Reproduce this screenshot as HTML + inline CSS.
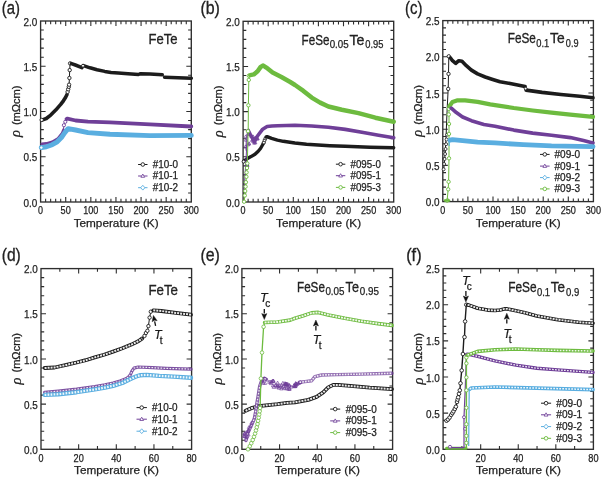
<!DOCTYPE html><html><head><meta charset="utf-8"><style>html,body{margin:0;padding:0;background:#fff;overflow:hidden;width:602px;height:478px}svg{display:block;will-change:transform;font-family:"Liberation Sans",sans-serif}</style></head><body><svg width="602" height="478" viewBox="0 0 602 478">
<rect width="602" height="478" fill="#fff"/>
<path d="M45.62 202.00v-3.2M45.62 21.00v3.2M50.65 202.00v-3.2M50.65 21.00v3.2M55.67 202.00v-3.2M55.67 21.00v3.2M60.69 202.00v-3.2M60.69 21.00v3.2M65.72 202.00v-5.0M65.72 21.00v5.0M70.74 202.00v-3.2M70.74 21.00v3.2M75.76 202.00v-3.2M75.76 21.00v3.2M80.79 202.00v-3.2M80.79 21.00v3.2M85.81 202.00v-3.2M85.81 21.00v3.2M90.83 202.00v-5.0M90.83 21.00v5.0M95.86 202.00v-3.2M95.86 21.00v3.2M100.88 202.00v-3.2M100.88 21.00v3.2M105.90 202.00v-3.2M105.90 21.00v3.2M110.93 202.00v-3.2M110.93 21.00v3.2M115.95 202.00v-5.0M115.95 21.00v5.0M120.97 202.00v-3.2M120.97 21.00v3.2M126.00 202.00v-3.2M126.00 21.00v3.2M131.02 202.00v-3.2M131.02 21.00v3.2M136.04 202.00v-3.2M136.04 21.00v3.2M141.07 202.00v-5.0M141.07 21.00v5.0M146.09 202.00v-3.2M146.09 21.00v3.2M151.11 202.00v-3.2M151.11 21.00v3.2M156.14 202.00v-3.2M156.14 21.00v3.2M161.16 202.00v-3.2M161.16 21.00v3.2M166.18 202.00v-5.0M166.18 21.00v5.0M171.21 202.00v-3.2M171.21 21.00v3.2M176.23 202.00v-3.2M176.23 21.00v3.2M181.25 202.00v-3.2M181.25 21.00v3.2M186.28 202.00v-3.2M186.28 21.00v3.2M40.60 192.95h3.2M191.30 192.95h-3.2M40.60 183.90h3.2M191.30 183.90h-3.2M40.60 174.85h3.2M191.30 174.85h-3.2M40.60 165.80h3.2M191.30 165.80h-3.2M40.60 156.75h5.0M191.30 156.75h-5.0M40.60 147.70h3.2M191.30 147.70h-3.2M40.60 138.65h3.2M191.30 138.65h-3.2M40.60 129.60h3.2M191.30 129.60h-3.2M40.60 120.55h3.2M191.30 120.55h-3.2M40.60 111.50h5.0M191.30 111.50h-5.0M40.60 102.45h3.2M191.30 102.45h-3.2M40.60 93.40h3.2M191.30 93.40h-3.2M40.60 84.35h3.2M191.30 84.35h-3.2M40.60 75.30h3.2M191.30 75.30h-3.2M40.60 66.25h5.0M191.30 66.25h-5.0M40.60 57.20h3.2M191.30 57.20h-3.2M40.60 48.15h3.2M191.30 48.15h-3.2M40.60 39.10h3.2M191.30 39.10h-3.2M40.60 30.05h3.2M191.30 30.05h-3.2" stroke="#2e2e2e" stroke-width="1.1" fill="none"/>
<rect x="40.60" y="21.00" width="150.70" height="181.00" stroke="#2e2e2e" stroke-width="1.35" fill="none"/>
<text x="40.60" y="214.20" font-size="10.5" text-anchor="middle" textLength="5.0" lengthAdjust="spacingAndGlyphs" fill="#222222" stroke="#222222" stroke-width="0.25" >0</text>
<text x="65.72" y="214.20" font-size="10.5" text-anchor="middle" textLength="10.2" lengthAdjust="spacingAndGlyphs" fill="#222222" stroke="#222222" stroke-width="0.25" >50</text>
<text x="90.83" y="214.20" font-size="10.5" text-anchor="middle" textLength="15.2" lengthAdjust="spacingAndGlyphs" fill="#222222" stroke="#222222" stroke-width="0.25" >100</text>
<text x="115.95" y="214.20" font-size="10.5" text-anchor="middle" textLength="15.2" lengthAdjust="spacingAndGlyphs" fill="#222222" stroke="#222222" stroke-width="0.25" >150</text>
<text x="141.07" y="214.20" font-size="10.5" text-anchor="middle" textLength="15.2" lengthAdjust="spacingAndGlyphs" fill="#222222" stroke="#222222" stroke-width="0.25" >200</text>
<text x="166.18" y="214.20" font-size="10.5" text-anchor="middle" textLength="15.2" lengthAdjust="spacingAndGlyphs" fill="#222222" stroke="#222222" stroke-width="0.25" >250</text>
<text x="191.30" y="214.20" font-size="10.5" text-anchor="middle" textLength="15.2" lengthAdjust="spacingAndGlyphs" fill="#222222" stroke="#222222" stroke-width="0.25" >300</text>
<text x="37.40" y="206.60" font-size="11" text-anchor="end" textLength="13.8" lengthAdjust="spacingAndGlyphs" fill="#222222" stroke="#222222" stroke-width="0.25" >0.0</text>
<text x="37.40" y="161.35" font-size="11" text-anchor="end" textLength="13.8" lengthAdjust="spacingAndGlyphs" fill="#222222" stroke="#222222" stroke-width="0.25" >0.5</text>
<text x="37.40" y="116.10" font-size="11" text-anchor="end" textLength="13.8" lengthAdjust="spacingAndGlyphs" fill="#222222" stroke="#222222" stroke-width="0.25" >1.0</text>
<text x="37.40" y="70.85" font-size="11" text-anchor="end" textLength="13.8" lengthAdjust="spacingAndGlyphs" fill="#222222" stroke="#222222" stroke-width="0.25" >1.5</text>
<text x="37.40" y="25.60" font-size="11" text-anchor="end" textLength="13.8" lengthAdjust="spacingAndGlyphs" fill="#222222" stroke="#222222" stroke-width="0.25" >2.0</text>
<text x="73.65" y="227.00" font-size="11.5" text-anchor="start" textLength="85.0" lengthAdjust="spacingAndGlyphs" fill="#222222" stroke="#222222" stroke-width="0.25" >Temperature (K)</text>
<g transform="translate(19.90,111.50) rotate(-90)"><text x="-25.6" y="0.3" style="font-family:'Liberation Serif',serif" font-style="italic" font-size="14.5" fill="#222222" stroke="#222222" stroke-width="0.2">ρ</text><text x="-13.6" y="0" font-size="10" fill="#222222" stroke="#222222" stroke-width="0.25" textLength="39.6" lengthAdjust="spacingAndGlyphs">(mΩcm)</text></g>
<path d="M248.12 202.00v-3.2M248.12 21.30v3.2M253.14 202.00v-3.2M253.14 21.30v3.2M258.16 202.00v-3.2M258.16 21.30v3.2M263.18 202.00v-3.2M263.18 21.30v3.2M268.20 202.00v-5.0M268.20 21.30v5.0M273.22 202.00v-3.2M273.22 21.30v3.2M278.24 202.00v-3.2M278.24 21.30v3.2M283.26 202.00v-3.2M283.26 21.30v3.2M288.28 202.00v-3.2M288.28 21.30v3.2M293.30 202.00v-5.0M293.30 21.30v5.0M298.32 202.00v-3.2M298.32 21.30v3.2M303.34 202.00v-3.2M303.34 21.30v3.2M308.36 202.00v-3.2M308.36 21.30v3.2M313.38 202.00v-3.2M313.38 21.30v3.2M318.40 202.00v-5.0M318.40 21.30v5.0M323.42 202.00v-3.2M323.42 21.30v3.2M328.44 202.00v-3.2M328.44 21.30v3.2M333.46 202.00v-3.2M333.46 21.30v3.2M338.48 202.00v-3.2M338.48 21.30v3.2M343.50 202.00v-5.0M343.50 21.30v5.0M348.52 202.00v-3.2M348.52 21.30v3.2M353.54 202.00v-3.2M353.54 21.30v3.2M358.56 202.00v-3.2M358.56 21.30v3.2M363.58 202.00v-3.2M363.58 21.30v3.2M368.60 202.00v-5.0M368.60 21.30v5.0M373.62 202.00v-3.2M373.62 21.30v3.2M378.64 202.00v-3.2M378.64 21.30v3.2M383.66 202.00v-3.2M383.66 21.30v3.2M388.68 202.00v-3.2M388.68 21.30v3.2M243.10 192.97h3.2M393.70 192.97h-3.2M243.10 183.93h3.2M393.70 183.93h-3.2M243.10 174.89h3.2M393.70 174.89h-3.2M243.10 165.86h3.2M393.70 165.86h-3.2M243.10 156.82h5.0M393.70 156.82h-5.0M243.10 147.79h3.2M393.70 147.79h-3.2M243.10 138.75h3.2M393.70 138.75h-3.2M243.10 129.72h3.2M393.70 129.72h-3.2M243.10 120.69h3.2M393.70 120.69h-3.2M243.10 111.65h5.0M393.70 111.65h-5.0M243.10 102.61h3.2M393.70 102.61h-3.2M243.10 93.58h3.2M393.70 93.58h-3.2M243.10 84.55h3.2M393.70 84.55h-3.2M243.10 75.51h3.2M393.70 75.51h-3.2M243.10 66.48h5.0M393.70 66.48h-5.0M243.10 57.44h3.2M393.70 57.44h-3.2M243.10 48.41h3.2M393.70 48.41h-3.2M243.10 39.37h3.2M393.70 39.37h-3.2M243.10 30.34h3.2M393.70 30.34h-3.2" stroke="#2e2e2e" stroke-width="1.1" fill="none"/>
<rect x="243.10" y="21.30" width="150.60" height="180.70" stroke="#2e2e2e" stroke-width="1.35" fill="none"/>
<text x="243.10" y="214.20" font-size="10.5" text-anchor="middle" textLength="5.0" lengthAdjust="spacingAndGlyphs" fill="#222222" stroke="#222222" stroke-width="0.25" >0</text>
<text x="268.20" y="214.20" font-size="10.5" text-anchor="middle" textLength="10.2" lengthAdjust="spacingAndGlyphs" fill="#222222" stroke="#222222" stroke-width="0.25" >50</text>
<text x="293.30" y="214.20" font-size="10.5" text-anchor="middle" textLength="15.2" lengthAdjust="spacingAndGlyphs" fill="#222222" stroke="#222222" stroke-width="0.25" >100</text>
<text x="318.40" y="214.20" font-size="10.5" text-anchor="middle" textLength="15.2" lengthAdjust="spacingAndGlyphs" fill="#222222" stroke="#222222" stroke-width="0.25" >150</text>
<text x="343.50" y="214.20" font-size="10.5" text-anchor="middle" textLength="15.2" lengthAdjust="spacingAndGlyphs" fill="#222222" stroke="#222222" stroke-width="0.25" >200</text>
<text x="368.60" y="214.20" font-size="10.5" text-anchor="middle" textLength="15.2" lengthAdjust="spacingAndGlyphs" fill="#222222" stroke="#222222" stroke-width="0.25" >250</text>
<text x="393.70" y="214.20" font-size="10.5" text-anchor="middle" textLength="15.2" lengthAdjust="spacingAndGlyphs" fill="#222222" stroke="#222222" stroke-width="0.25" >300</text>
<text x="239.90" y="206.60" font-size="11" text-anchor="end" textLength="13.8" lengthAdjust="spacingAndGlyphs" fill="#222222" stroke="#222222" stroke-width="0.25" >0.0</text>
<text x="239.90" y="161.42" font-size="11" text-anchor="end" textLength="13.8" lengthAdjust="spacingAndGlyphs" fill="#222222" stroke="#222222" stroke-width="0.25" >0.5</text>
<text x="239.90" y="116.25" font-size="11" text-anchor="end" textLength="13.8" lengthAdjust="spacingAndGlyphs" fill="#222222" stroke="#222222" stroke-width="0.25" >1.0</text>
<text x="239.90" y="71.08" font-size="11" text-anchor="end" textLength="13.8" lengthAdjust="spacingAndGlyphs" fill="#222222" stroke="#222222" stroke-width="0.25" >1.5</text>
<text x="239.90" y="25.90" font-size="11" text-anchor="end" textLength="13.8" lengthAdjust="spacingAndGlyphs" fill="#222222" stroke="#222222" stroke-width="0.25" >2.0</text>
<text x="276.10" y="227.00" font-size="11.5" text-anchor="start" textLength="85.0" lengthAdjust="spacingAndGlyphs" fill="#222222" stroke="#222222" stroke-width="0.25" >Temperature (K)</text>
<g transform="translate(222.40,111.65) rotate(-90)"><text x="-25.6" y="0.3" style="font-family:'Liberation Serif',serif" font-style="italic" font-size="14.5" fill="#222222" stroke="#222222" stroke-width="0.2">ρ</text><text x="-13.6" y="0" font-size="10" fill="#222222" stroke="#222222" stroke-width="0.25" textLength="39.6" lengthAdjust="spacingAndGlyphs">(mΩcm)</text></g>
<path d="M447.82 201.60v-3.2M447.82 20.60v3.2M452.84 201.60v-3.2M452.84 20.60v3.2M457.86 201.60v-3.2M457.86 20.60v3.2M462.88 201.60v-3.2M462.88 20.60v3.2M467.90 201.60v-5.0M467.90 20.60v5.0M472.92 201.60v-3.2M472.92 20.60v3.2M477.94 201.60v-3.2M477.94 20.60v3.2M482.96 201.60v-3.2M482.96 20.60v3.2M487.98 201.60v-3.2M487.98 20.60v3.2M493.00 201.60v-5.0M493.00 20.60v5.0M498.02 201.60v-3.2M498.02 20.60v3.2M503.04 201.60v-3.2M503.04 20.60v3.2M508.06 201.60v-3.2M508.06 20.60v3.2M513.08 201.60v-3.2M513.08 20.60v3.2M518.10 201.60v-5.0M518.10 20.60v5.0M523.12 201.60v-3.2M523.12 20.60v3.2M528.14 201.60v-3.2M528.14 20.60v3.2M533.16 201.60v-3.2M533.16 20.60v3.2M538.18 201.60v-3.2M538.18 20.60v3.2M543.20 201.60v-5.0M543.20 20.60v5.0M548.22 201.60v-3.2M548.22 20.60v3.2M553.24 201.60v-3.2M553.24 20.60v3.2M558.26 201.60v-3.2M558.26 20.60v3.2M563.28 201.60v-3.2M563.28 20.60v3.2M568.30 201.60v-5.0M568.30 20.60v5.0M573.32 201.60v-3.2M573.32 20.60v3.2M578.34 201.60v-3.2M578.34 20.60v3.2M583.36 201.60v-3.2M583.36 20.60v3.2M588.38 201.60v-3.2M588.38 20.60v3.2M442.80 194.36h3.2M593.40 194.36h-3.2M442.80 187.12h3.2M593.40 187.12h-3.2M442.80 179.88h3.2M593.40 179.88h-3.2M442.80 172.64h3.2M593.40 172.64h-3.2M442.80 165.40h5.0M593.40 165.40h-5.0M442.80 158.16h3.2M593.40 158.16h-3.2M442.80 150.92h3.2M593.40 150.92h-3.2M442.80 143.68h3.2M593.40 143.68h-3.2M442.80 136.44h3.2M593.40 136.44h-3.2M442.80 129.20h5.0M593.40 129.20h-5.0M442.80 121.96h3.2M593.40 121.96h-3.2M442.80 114.72h3.2M593.40 114.72h-3.2M442.80 107.48h3.2M593.40 107.48h-3.2M442.80 100.24h3.2M593.40 100.24h-3.2M442.80 93.00h5.0M593.40 93.00h-5.0M442.80 85.76h3.2M593.40 85.76h-3.2M442.80 78.52h3.2M593.40 78.52h-3.2M442.80 71.28h3.2M593.40 71.28h-3.2M442.80 64.04h3.2M593.40 64.04h-3.2M442.80 56.80h5.0M593.40 56.80h-5.0M442.80 49.56h3.2M593.40 49.56h-3.2M442.80 42.32h3.2M593.40 42.32h-3.2M442.80 35.08h3.2M593.40 35.08h-3.2M442.80 27.84h3.2M593.40 27.84h-3.2" stroke="#2e2e2e" stroke-width="1.1" fill="none"/>
<rect x="442.80" y="20.60" width="150.60" height="181.00" stroke="#2e2e2e" stroke-width="1.35" fill="none"/>
<text x="442.80" y="213.80" font-size="10.5" text-anchor="middle" textLength="5.0" lengthAdjust="spacingAndGlyphs" fill="#222222" stroke="#222222" stroke-width="0.25" >0</text>
<text x="467.90" y="213.80" font-size="10.5" text-anchor="middle" textLength="10.2" lengthAdjust="spacingAndGlyphs" fill="#222222" stroke="#222222" stroke-width="0.25" >50</text>
<text x="493.00" y="213.80" font-size="10.5" text-anchor="middle" textLength="15.2" lengthAdjust="spacingAndGlyphs" fill="#222222" stroke="#222222" stroke-width="0.25" >100</text>
<text x="518.10" y="213.80" font-size="10.5" text-anchor="middle" textLength="15.2" lengthAdjust="spacingAndGlyphs" fill="#222222" stroke="#222222" stroke-width="0.25" >150</text>
<text x="543.20" y="213.80" font-size="10.5" text-anchor="middle" textLength="15.2" lengthAdjust="spacingAndGlyphs" fill="#222222" stroke="#222222" stroke-width="0.25" >200</text>
<text x="568.30" y="213.80" font-size="10.5" text-anchor="middle" textLength="15.2" lengthAdjust="spacingAndGlyphs" fill="#222222" stroke="#222222" stroke-width="0.25" >250</text>
<text x="593.40" y="213.80" font-size="10.5" text-anchor="middle" textLength="15.2" lengthAdjust="spacingAndGlyphs" fill="#222222" stroke="#222222" stroke-width="0.25" >300</text>
<text x="439.60" y="206.20" font-size="11" text-anchor="end" textLength="13.8" lengthAdjust="spacingAndGlyphs" fill="#222222" stroke="#222222" stroke-width="0.25" >0.0</text>
<text x="439.60" y="170.00" font-size="11" text-anchor="end" textLength="13.8" lengthAdjust="spacingAndGlyphs" fill="#222222" stroke="#222222" stroke-width="0.25" >0.5</text>
<text x="439.60" y="133.80" font-size="11" text-anchor="end" textLength="13.8" lengthAdjust="spacingAndGlyphs" fill="#222222" stroke="#222222" stroke-width="0.25" >1.0</text>
<text x="439.60" y="97.60" font-size="11" text-anchor="end" textLength="13.8" lengthAdjust="spacingAndGlyphs" fill="#222222" stroke="#222222" stroke-width="0.25" >1.5</text>
<text x="439.60" y="61.40" font-size="11" text-anchor="end" textLength="13.8" lengthAdjust="spacingAndGlyphs" fill="#222222" stroke="#222222" stroke-width="0.25" >2.0</text>
<text x="439.60" y="25.20" font-size="11" text-anchor="end" textLength="13.8" lengthAdjust="spacingAndGlyphs" fill="#222222" stroke="#222222" stroke-width="0.25" >2.5</text>
<text x="475.80" y="226.60" font-size="11.5" text-anchor="start" textLength="85.0" lengthAdjust="spacingAndGlyphs" fill="#222222" stroke="#222222" stroke-width="0.25" >Temperature (K)</text>
<g transform="translate(422.10,111.10) rotate(-90)"><text x="-25.6" y="0.3" style="font-family:'Liberation Serif',serif" font-style="italic" font-size="14.5" fill="#222222" stroke="#222222" stroke-width="0.2">ρ</text><text x="-13.6" y="0" font-size="10" fill="#222222" stroke="#222222" stroke-width="0.25" textLength="39.6" lengthAdjust="spacingAndGlyphs">(mΩcm)</text></g>
<path d="M59.83 449.30v-3.2M59.83 268.60v3.2M78.65 449.30v-5.0M78.65 268.60v5.0M97.47 449.30v-3.2M97.47 268.60v3.2M116.30 449.30v-5.0M116.30 268.60v5.0M135.12 449.30v-3.2M135.12 268.60v3.2M153.95 449.30v-5.0M153.95 268.60v5.0M172.78 449.30v-3.2M172.78 268.60v3.2M41.00 440.26h3.2M191.60 440.26h-3.2M41.00 431.23h3.2M191.60 431.23h-3.2M41.00 422.19h3.2M191.60 422.19h-3.2M41.00 413.16h3.2M191.60 413.16h-3.2M41.00 404.12h5.0M191.60 404.12h-5.0M41.00 395.09h3.2M191.60 395.09h-3.2M41.00 386.06h3.2M191.60 386.06h-3.2M41.00 377.02h3.2M191.60 377.02h-3.2M41.00 367.99h3.2M191.60 367.99h-3.2M41.00 358.95h5.0M191.60 358.95h-5.0M41.00 349.92h3.2M191.60 349.92h-3.2M41.00 340.88h3.2M191.60 340.88h-3.2M41.00 331.85h3.2M191.60 331.85h-3.2M41.00 322.81h3.2M191.60 322.81h-3.2M41.00 313.78h5.0M191.60 313.78h-5.0M41.00 304.74h3.2M191.60 304.74h-3.2M41.00 295.71h3.2M191.60 295.71h-3.2M41.00 286.67h3.2M191.60 286.67h-3.2M41.00 277.63h3.2M191.60 277.63h-3.2" stroke="#2e2e2e" stroke-width="1.1" fill="none"/>
<rect x="41.00" y="268.60" width="150.60" height="180.70" stroke="#2e2e2e" stroke-width="1.35" fill="none"/>
<text x="41.00" y="461.50" font-size="10.5" text-anchor="middle" textLength="5.0" lengthAdjust="spacingAndGlyphs" fill="#222222" stroke="#222222" stroke-width="0.25" >0</text>
<text x="78.65" y="461.50" font-size="10.5" text-anchor="middle" textLength="10.2" lengthAdjust="spacingAndGlyphs" fill="#222222" stroke="#222222" stroke-width="0.25" >20</text>
<text x="116.30" y="461.50" font-size="10.5" text-anchor="middle" textLength="10.2" lengthAdjust="spacingAndGlyphs" fill="#222222" stroke="#222222" stroke-width="0.25" >40</text>
<text x="153.95" y="461.50" font-size="10.5" text-anchor="middle" textLength="10.2" lengthAdjust="spacingAndGlyphs" fill="#222222" stroke="#222222" stroke-width="0.25" >60</text>
<text x="191.60" y="461.50" font-size="10.5" text-anchor="middle" textLength="10.2" lengthAdjust="spacingAndGlyphs" fill="#222222" stroke="#222222" stroke-width="0.25" >80</text>
<text x="37.80" y="453.90" font-size="11" text-anchor="end" textLength="13.8" lengthAdjust="spacingAndGlyphs" fill="#222222" stroke="#222222" stroke-width="0.25" >0.0</text>
<text x="37.80" y="408.73" font-size="11" text-anchor="end" textLength="13.8" lengthAdjust="spacingAndGlyphs" fill="#222222" stroke="#222222" stroke-width="0.25" >0.5</text>
<text x="37.80" y="363.55" font-size="11" text-anchor="end" textLength="13.8" lengthAdjust="spacingAndGlyphs" fill="#222222" stroke="#222222" stroke-width="0.25" >1.0</text>
<text x="37.80" y="318.38" font-size="11" text-anchor="end" textLength="13.8" lengthAdjust="spacingAndGlyphs" fill="#222222" stroke="#222222" stroke-width="0.25" >1.5</text>
<text x="37.80" y="273.20" font-size="11" text-anchor="end" textLength="13.8" lengthAdjust="spacingAndGlyphs" fill="#222222" stroke="#222222" stroke-width="0.25" >2.0</text>
<text x="74.00" y="474.30" font-size="11.5" text-anchor="start" textLength="85.0" lengthAdjust="spacingAndGlyphs" fill="#222222" stroke="#222222" stroke-width="0.25" >Temperature (K)</text>
<g transform="translate(20.30,358.95) rotate(-90)"><text x="-25.6" y="0.3" style="font-family:'Liberation Serif',serif" font-style="italic" font-size="14.5" fill="#222222" stroke="#222222" stroke-width="0.2">ρ</text><text x="-13.6" y="0" font-size="10" fill="#222222" stroke="#222222" stroke-width="0.25" textLength="39.6" lengthAdjust="spacingAndGlyphs">(mΩcm)</text></g>
<path d="M260.74 449.30v-3.2M260.74 268.60v3.2M279.57 449.30v-5.0M279.57 268.60v5.0M298.41 449.30v-3.2M298.41 268.60v3.2M317.25 449.30v-5.0M317.25 268.60v5.0M336.09 449.30v-3.2M336.09 268.60v3.2M354.93 449.30v-5.0M354.93 268.60v5.0M373.76 449.30v-3.2M373.76 268.60v3.2M241.90 440.26h3.2M392.60 440.26h-3.2M241.90 431.23h3.2M392.60 431.23h-3.2M241.90 422.19h3.2M392.60 422.19h-3.2M241.90 413.16h3.2M392.60 413.16h-3.2M241.90 404.12h5.0M392.60 404.12h-5.0M241.90 395.09h3.2M392.60 395.09h-3.2M241.90 386.06h3.2M392.60 386.06h-3.2M241.90 377.02h3.2M392.60 377.02h-3.2M241.90 367.99h3.2M392.60 367.99h-3.2M241.90 358.95h5.0M392.60 358.95h-5.0M241.90 349.92h3.2M392.60 349.92h-3.2M241.90 340.88h3.2M392.60 340.88h-3.2M241.90 331.85h3.2M392.60 331.85h-3.2M241.90 322.81h3.2M392.60 322.81h-3.2M241.90 313.78h5.0M392.60 313.78h-5.0M241.90 304.74h3.2M392.60 304.74h-3.2M241.90 295.71h3.2M392.60 295.71h-3.2M241.90 286.67h3.2M392.60 286.67h-3.2M241.90 277.63h3.2M392.60 277.63h-3.2" stroke="#2e2e2e" stroke-width="1.1" fill="none"/>
<rect x="241.90" y="268.60" width="150.70" height="180.70" stroke="#2e2e2e" stroke-width="1.35" fill="none"/>
<text x="241.90" y="461.50" font-size="10.5" text-anchor="middle" textLength="5.0" lengthAdjust="spacingAndGlyphs" fill="#222222" stroke="#222222" stroke-width="0.25" >0</text>
<text x="279.57" y="461.50" font-size="10.5" text-anchor="middle" textLength="10.2" lengthAdjust="spacingAndGlyphs" fill="#222222" stroke="#222222" stroke-width="0.25" >20</text>
<text x="317.25" y="461.50" font-size="10.5" text-anchor="middle" textLength="10.2" lengthAdjust="spacingAndGlyphs" fill="#222222" stroke="#222222" stroke-width="0.25" >40</text>
<text x="354.93" y="461.50" font-size="10.5" text-anchor="middle" textLength="10.2" lengthAdjust="spacingAndGlyphs" fill="#222222" stroke="#222222" stroke-width="0.25" >60</text>
<text x="392.60" y="461.50" font-size="10.5" text-anchor="middle" textLength="10.2" lengthAdjust="spacingAndGlyphs" fill="#222222" stroke="#222222" stroke-width="0.25" >80</text>
<text x="238.70" y="453.90" font-size="11" text-anchor="end" textLength="13.8" lengthAdjust="spacingAndGlyphs" fill="#222222" stroke="#222222" stroke-width="0.25" >0.0</text>
<text x="238.70" y="408.73" font-size="11" text-anchor="end" textLength="13.8" lengthAdjust="spacingAndGlyphs" fill="#222222" stroke="#222222" stroke-width="0.25" >0.5</text>
<text x="238.70" y="363.55" font-size="11" text-anchor="end" textLength="13.8" lengthAdjust="spacingAndGlyphs" fill="#222222" stroke="#222222" stroke-width="0.25" >1.0</text>
<text x="238.70" y="318.38" font-size="11" text-anchor="end" textLength="13.8" lengthAdjust="spacingAndGlyphs" fill="#222222" stroke="#222222" stroke-width="0.25" >1.5</text>
<text x="238.70" y="273.20" font-size="11" text-anchor="end" textLength="13.8" lengthAdjust="spacingAndGlyphs" fill="#222222" stroke="#222222" stroke-width="0.25" >2.0</text>
<text x="274.95" y="474.30" font-size="11.5" text-anchor="start" textLength="85.0" lengthAdjust="spacingAndGlyphs" fill="#222222" stroke="#222222" stroke-width="0.25" >Temperature (K)</text>
<g transform="translate(221.20,358.95) rotate(-90)"><text x="-25.6" y="0.3" style="font-family:'Liberation Serif',serif" font-style="italic" font-size="14.5" fill="#222222" stroke="#222222" stroke-width="0.2">ρ</text><text x="-13.6" y="0" font-size="10" fill="#222222" stroke="#222222" stroke-width="0.25" textLength="39.6" lengthAdjust="spacingAndGlyphs">(mΩcm)</text></g>
<path d="M461.89 449.30v-3.2M461.89 268.60v3.2M480.68 449.30v-5.0M480.68 268.60v5.0M499.46 449.30v-3.2M499.46 268.60v3.2M518.25 449.30v-5.0M518.25 268.60v5.0M537.04 449.30v-3.2M537.04 268.60v3.2M555.83 449.30v-5.0M555.83 268.60v5.0M574.61 449.30v-3.2M574.61 268.60v3.2M443.10 442.07h3.2M593.40 442.07h-3.2M443.10 434.84h3.2M593.40 434.84h-3.2M443.10 427.62h3.2M593.40 427.62h-3.2M443.10 420.39h3.2M593.40 420.39h-3.2M443.10 413.16h5.0M593.40 413.16h-5.0M443.10 405.93h3.2M593.40 405.93h-3.2M443.10 398.70h3.2M593.40 398.70h-3.2M443.10 391.48h3.2M593.40 391.48h-3.2M443.10 384.25h3.2M593.40 384.25h-3.2M443.10 377.02h5.0M593.40 377.02h-5.0M443.10 369.79h3.2M593.40 369.79h-3.2M443.10 362.56h3.2M593.40 362.56h-3.2M443.10 355.34h3.2M593.40 355.34h-3.2M443.10 348.11h3.2M593.40 348.11h-3.2M443.10 340.88h5.0M593.40 340.88h-5.0M443.10 333.65h3.2M593.40 333.65h-3.2M443.10 326.42h3.2M593.40 326.42h-3.2M443.10 319.20h3.2M593.40 319.20h-3.2M443.10 311.97h3.2M593.40 311.97h-3.2M443.10 304.74h5.0M593.40 304.74h-5.0M443.10 297.51h3.2M593.40 297.51h-3.2M443.10 290.28h3.2M593.40 290.28h-3.2M443.10 283.06h3.2M593.40 283.06h-3.2M443.10 275.83h3.2M593.40 275.83h-3.2" stroke="#2e2e2e" stroke-width="1.1" fill="none"/>
<rect x="443.10" y="268.60" width="150.30" height="180.70" stroke="#2e2e2e" stroke-width="1.35" fill="none"/>
<text x="443.10" y="461.50" font-size="10.5" text-anchor="middle" textLength="5.0" lengthAdjust="spacingAndGlyphs" fill="#222222" stroke="#222222" stroke-width="0.25" >0</text>
<text x="480.68" y="461.50" font-size="10.5" text-anchor="middle" textLength="10.2" lengthAdjust="spacingAndGlyphs" fill="#222222" stroke="#222222" stroke-width="0.25" >20</text>
<text x="518.25" y="461.50" font-size="10.5" text-anchor="middle" textLength="10.2" lengthAdjust="spacingAndGlyphs" fill="#222222" stroke="#222222" stroke-width="0.25" >40</text>
<text x="555.83" y="461.50" font-size="10.5" text-anchor="middle" textLength="10.2" lengthAdjust="spacingAndGlyphs" fill="#222222" stroke="#222222" stroke-width="0.25" >60</text>
<text x="593.40" y="461.50" font-size="10.5" text-anchor="middle" textLength="10.2" lengthAdjust="spacingAndGlyphs" fill="#222222" stroke="#222222" stroke-width="0.25" >80</text>
<text x="439.90" y="453.90" font-size="11" text-anchor="end" textLength="13.8" lengthAdjust="spacingAndGlyphs" fill="#222222" stroke="#222222" stroke-width="0.25" >0.0</text>
<text x="439.90" y="417.76" font-size="11" text-anchor="end" textLength="13.8" lengthAdjust="spacingAndGlyphs" fill="#222222" stroke="#222222" stroke-width="0.25" >0.5</text>
<text x="439.90" y="381.62" font-size="11" text-anchor="end" textLength="13.8" lengthAdjust="spacingAndGlyphs" fill="#222222" stroke="#222222" stroke-width="0.25" >1.0</text>
<text x="439.90" y="345.48" font-size="11" text-anchor="end" textLength="13.8" lengthAdjust="spacingAndGlyphs" fill="#222222" stroke="#222222" stroke-width="0.25" >1.5</text>
<text x="439.90" y="309.34" font-size="11" text-anchor="end" textLength="13.8" lengthAdjust="spacingAndGlyphs" fill="#222222" stroke="#222222" stroke-width="0.25" >2.0</text>
<text x="439.90" y="273.20" font-size="11" text-anchor="end" textLength="13.8" lengthAdjust="spacingAndGlyphs" fill="#222222" stroke="#222222" stroke-width="0.25" >2.5</text>
<text x="475.95" y="474.30" font-size="11.5" text-anchor="start" textLength="85.0" lengthAdjust="spacingAndGlyphs" fill="#222222" stroke="#222222" stroke-width="0.25" >Temperature (K)</text>
<g transform="translate(422.40,358.95) rotate(-90)"><text x="-25.6" y="0.3" style="font-family:'Liberation Serif',serif" font-style="italic" font-size="14.5" fill="#222222" stroke="#222222" stroke-width="0.2">ρ</text><text x="-13.6" y="0" font-size="10" fill="#222222" stroke="#222222" stroke-width="0.25" textLength="39.6" lengthAdjust="spacingAndGlyphs">(mΩcm)</text></g>
<polyline points="41.90,120.10 46.30,118.50 50.70,115.10 55.70,110.10 60.70,104.40 63.40,100.80 65.50,97.50 67.00,94.50" fill="none" stroke="#1c1c1c" stroke-width="3.6" stroke-linejoin="round" stroke-linecap="round"/>
<polyline points="67.00,94.50 67.60,91.90 68.20,89.30 68.80,86.80 69.10,84.70 69.40,78.00 69.70,70.10 70.10,63.40" fill="none" stroke="#1c1c1c" stroke-width="1.0" stroke-linejoin="round"/>
<circle cx="67.60" cy="91.90" r="1.7" fill="#fff" stroke="#1c1c1c" stroke-width="0.9"/>
<circle cx="68.20" cy="89.30" r="1.7" fill="#fff" stroke="#1c1c1c" stroke-width="0.9"/>
<circle cx="68.80" cy="86.80" r="1.7" fill="#fff" stroke="#1c1c1c" stroke-width="0.9"/>
<circle cx="69.10" cy="84.70" r="1.7" fill="#fff" stroke="#1c1c1c" stroke-width="0.9"/>
<circle cx="69.40" cy="78.00" r="1.7" fill="#fff" stroke="#1c1c1c" stroke-width="0.9"/>
<circle cx="69.70" cy="70.10" r="1.7" fill="#fff" stroke="#1c1c1c" stroke-width="0.9"/>
<circle cx="70.10" cy="63.40" r="1.7" fill="#fff" stroke="#1c1c1c" stroke-width="0.9"/>
<polyline points="71.50,63.60 76.00,65.30 81.90,67.60" fill="none" stroke="#1c1c1c" stroke-width="3.6" stroke-linejoin="round" stroke-linecap="round"/>
<polyline points="83.40,65.60 90.00,67.80 97.00,69.80 104.80,71.40 111.00,72.40 118.30,73.00 128.00,73.80 138.50,74.50 140.50,73.70 150.00,74.00 162.30,74.80" fill="none" stroke="#1c1c1c" stroke-width="3.5" stroke-linejoin="round" stroke-linecap="round"/>
<polyline points="164.60,77.20 178.00,77.70 191.30,78.20" fill="none" stroke="#1c1c1c" stroke-width="3.5" stroke-linejoin="round" stroke-linecap="round"/>
<circle cx="41.70" cy="119.90" r="1.7" fill="#fff" stroke="#1c1c1c" stroke-width="0.9"/>
<circle cx="83.00" cy="65.80" r="1.5" fill="#fff" stroke="#1c1c1c" stroke-width="0.9"/>
<polyline points="41.80,143.80 46.40,143.40 52.20,141.80 58.00,138.40 62.20,133.00 63.50,129.60" fill="none" stroke="#6f3f98" stroke-width="2.6" stroke-linejoin="round" stroke-linecap="round"/>
<polyline points="63.50,129.60 63.90,125.00 65.60,121.30 67.30,118.80" fill="none" stroke="#6f3f98" stroke-width="1.0" stroke-linejoin="round"/>
<circle cx="63.90" cy="125.20" r="1.6" fill="#fff" stroke="#6f3f98" stroke-width="0.9"/>
<circle cx="65.30" cy="121.80" r="1.6" fill="#fff" stroke="#6f3f98" stroke-width="0.9"/>
<polyline points="66.50,119.00 67.50,118.60 75.60,120.50 88.00,121.60 110.00,122.40 150.00,124.30 191.30,126.50" fill="none" stroke="#6f3f98" stroke-width="3.8" stroke-linejoin="round" stroke-linecap="round"/>
<polyline points="41.30,147.60 46.40,146.80 52.20,144.70 57.20,141.80 61.40,137.60 64.80,132.60 68.10,128.60 75.60,130.00 88.00,132.60 110.00,134.30 150.00,135.60 191.30,135.40" fill="none" stroke="#5aaee0" stroke-width="4.9" stroke-linejoin="round" stroke-linecap="round"/>
<circle cx="41.30" cy="147.60" r="1.7" fill="#fff" stroke="#5aaee0" stroke-width="0.9"/>
<polyline points="243.80,161.20 247.00,158.80 251.00,156.60 255.00,154.20 258.00,151.50 260.50,148.50 262.50,145.00 263.60,142.80" fill="none" stroke="#1c1c1c" stroke-width="3.4" stroke-linejoin="round" stroke-linecap="round"/>
<circle cx="243.60" cy="161.60" r="1.5" fill="#fff" stroke="#1c1c1c" stroke-width="0.9"/>
<polyline points="263.50,143.50 264.50,140.50 265.50,138.50" fill="none" stroke="#1c1c1c" stroke-width="1" stroke-linejoin="round"/>
<circle cx="263.90" cy="142.60" r="1.5" fill="#fff" stroke="#1c1c1c" stroke-width="0.9"/>
<circle cx="264.60" cy="140.20" r="1.5" fill="#fff" stroke="#1c1c1c" stroke-width="0.9"/>
<circle cx="265.50" cy="138.30" r="1.5" fill="#fff" stroke="#1c1c1c" stroke-width="0.9"/>
<polyline points="266.20,136.90 267.10,136.60 271.60,138.40 277.40,140.10 283.30,141.30 294.90,143.00 306.50,144.20 318.10,145.00 329.80,145.70 345.20,146.30 370.00,147.20 393.70,147.80" fill="none" stroke="#1c1c1c" stroke-width="3.4" stroke-linejoin="round" stroke-linecap="round"/>
<polyline points="244.00,191.00 245.00,175.00 246.00,160.00 247.30,135.00 248.30,129.00" fill="none" stroke="#6f3f98" stroke-width="1.0" stroke-linejoin="round"/>
<path d="M247.3 163.6l1.3 2.5h-2.6zM247.4 163.6l1.3 2.5h-2.6zM247.5 163.6l1.3 2.5h-2.6zM247.1 163.6l1.3 2.5h-2.6zM247.6 163.6l1.3 2.5h-2.6zM247.3 163.6l1.3 2.5h-2.6zM247.1 163.6l1.3 2.5h-2.6zM247.6 163.6l1.3 2.5h-2.6zM247.3 163.6l1.3 2.5h-2.6zM247.2 163.6l1.3 2.5h-2.6zM247.6 163.6l1.3 2.5h-2.6zM247.4 163.6l1.3 2.5h-2.6zM247.2 163.6l1.3 2.5h-2.6zM247.3 163.6l1.3 2.5h-2.6z" fill="none" stroke="#6f3f98" stroke-width="0.7" stroke-opacity="0.7"/>
<polyline points="245.80,150.00 246.30,140.00 247.50,132.00 248.50,129.50" fill="none" stroke="#6f3f98" stroke-width="1.5" stroke-linejoin="round" stroke-linecap="round" stroke-opacity="0.5"/>
<path d="M253.3 139.7l1.5 2.8h-3.0zM255.4 141.0l1.5 2.8h-3.0zM254.7 141.0l1.5 2.8h-3.0zM245.9 138.4l1.5 2.8h-3.0zM257.3 137.2l1.5 2.8h-3.0zM256.8 136.2l1.5 2.8h-3.0zM251.4 134.6l1.5 2.8h-3.0zM252.3 138.1l1.5 2.8h-3.0zM245.7 134.9l1.5 2.8h-3.0zM249.0 141.7l1.5 2.8h-3.0zM255.1 136.5l1.5 2.8h-3.0zM255.5 136.6l1.5 2.8h-3.0zM253.2 134.9l1.5 2.8h-3.0zM245.5 144.9l1.5 2.8h-3.0zM248.1 132.4l1.5 2.8h-3.0zM257.8 137.0l1.5 2.8h-3.0zM249.1 142.3l1.5 2.8h-3.0zM252.2 139.0l1.5 2.8h-3.0zM248.1 143.1l1.5 2.8h-3.0zM254.1 141.3l1.5 2.8h-3.0zM256.7 136.9l1.5 2.8h-3.0zM250.0 132.6l1.5 2.8h-3.0z" fill="none" stroke="#6f3f98" stroke-width="0.75" stroke-opacity="0.9"/>
<polyline points="248.30,130.50 250.50,135.00 253.00,139.00 254.60,141.50 256.40,137.50 259.00,134.00 262.70,129.20 267.10,126.50 272.00,126.00 277.60,125.70 295.00,125.20 311.70,126.00 328.40,127.20 345.20,129.40 361.90,132.20 378.60,135.20 393.70,137.70" fill="none" stroke="#6f3f98" stroke-width="3.6" stroke-linejoin="round" stroke-linecap="round"/>
<polyline points="244.10,201.70 244.80,195.50 245.20,191.00 245.60,186.60 245.90,182.20 246.40,176.80 246.60,172.40 247.00,168.00 247.30,163.50 247.90,140.00 248.20,131.00 248.40,105.30 248.80,79.90 248.80,75.70" fill="none" stroke="#6dbb3f" stroke-width="1.0" stroke-linejoin="round"/>
<circle cx="244.10" cy="201.70" r="1.7" fill="#fff" stroke="#6dbb3f" stroke-width="0.9"/>
<circle cx="244.80" cy="195.50" r="1.7" fill="#fff" stroke="#6dbb3f" stroke-width="0.9"/>
<circle cx="245.20" cy="191.00" r="1.7" fill="#fff" stroke="#6dbb3f" stroke-width="0.9"/>
<circle cx="245.60" cy="186.60" r="1.7" fill="#fff" stroke="#6dbb3f" stroke-width="0.9"/>
<circle cx="245.90" cy="182.20" r="1.7" fill="#fff" stroke="#6dbb3f" stroke-width="0.9"/>
<circle cx="246.40" cy="176.80" r="1.7" fill="#fff" stroke="#6dbb3f" stroke-width="0.9"/>
<circle cx="246.60" cy="172.40" r="1.7" fill="#fff" stroke="#6dbb3f" stroke-width="0.9"/>
<circle cx="247.00" cy="168.00" r="1.7" fill="#fff" stroke="#6dbb3f" stroke-width="0.9"/>
<circle cx="247.30" cy="163.50" r="1.7" fill="#fff" stroke="#6dbb3f" stroke-width="0.9"/>
<circle cx="248.00" cy="131.20" r="1.7" fill="#fff" stroke="#6dbb3f" stroke-width="0.9"/>
<circle cx="248.40" cy="105.30" r="1.7" fill="#fff" stroke="#6dbb3f" stroke-width="0.9"/>
<circle cx="248.80" cy="79.90" r="1.7" fill="#fff" stroke="#6dbb3f" stroke-width="0.9"/>
<circle cx="248.80" cy="75.70" r="1.7" fill="#fff" stroke="#6dbb3f" stroke-width="0.9"/>
<polyline points="250.30,75.10 253.80,74.40 257.60,71.30 260.70,66.90 263.20,65.50 266.30,67.60 272.60,72.60 281.40,77.00 290.20,82.00 295.00,85.00 303.40,90.90 311.70,97.60 320.10,102.60 328.40,106.50 341.80,109.80 358.50,113.10 375.30,117.70 393.70,121.80" fill="none" stroke="#6dbb3f" stroke-width="4.5" stroke-linejoin="round" stroke-linecap="round"/>
<polyline points="448.80,56.30 448.50,73.90 448.20,88.90 447.30,106.00 446.60,122.00 446.00,139.00 445.00,155.00 443.70,170.00" fill="none" stroke="#1c1c1c" stroke-width="1.0" stroke-linejoin="round"/>
<circle cx="448.80" cy="56.30" r="1.7" fill="#fff" stroke="#1c1c1c" stroke-width="0.9"/>
<circle cx="448.50" cy="73.90" r="1.7" fill="#fff" stroke="#1c1c1c" stroke-width="0.9"/>
<circle cx="448.20" cy="88.90" r="1.7" fill="#fff" stroke="#1c1c1c" stroke-width="0.9"/>
<circle cx="447.10" cy="134.70" r="1.5" fill="#fff" stroke="#1c1c1c" stroke-width="0.8"/>
<circle cx="446.60" cy="139.50" r="1.5" fill="#fff" stroke="#1c1c1c" stroke-width="0.8"/>
<circle cx="446.10" cy="144.20" r="1.5" fill="#fff" stroke="#1c1c1c" stroke-width="0.8"/>
<circle cx="445.60" cy="149.00" r="1.5" fill="#fff" stroke="#1c1c1c" stroke-width="0.8"/>
<circle cx="445.10" cy="154.00" r="1.5" fill="#fff" stroke="#1c1c1c" stroke-width="0.8"/>
<circle cx="444.60" cy="159.00" r="1.5" fill="#fff" stroke="#1c1c1c" stroke-width="0.8"/>
<circle cx="444.10" cy="164.00" r="1.5" fill="#fff" stroke="#1c1c1c" stroke-width="0.8"/>
<circle cx="443.60" cy="169.30" r="1.5" fill="#fff" stroke="#1c1c1c" stroke-width="0.8"/>
<polyline points="450.50,58.00 452.50,60.70 455.70,63.40 458.80,60.70 462.00,61.30 466.30,65.70 471.40,70.10 477.60,73.90 485.20,77.00 492.70,79.50 500.00,81.80 510.10,83.50 525.10,86.40" fill="none" stroke="#1c1c1c" stroke-width="3.6" stroke-linejoin="round" stroke-linecap="round"/>
<polyline points="526.10,90.10 542.10,92.40 560.90,94.50 579.70,96.30 593.00,97.70" fill="none" stroke="#1c1c1c" stroke-width="3.6" stroke-linejoin="round" stroke-linecap="round"/>
<circle cx="525.60" cy="88.60" r="1.4" fill="#fff" stroke="#1c1c1c" stroke-width="0.9"/>
<polyline points="449.00,106.00 449.00,134.00 449.00,158.30 448.60,181.80 448.20,189.30 447.10,200.60" fill="none" stroke="#6dbb3f" stroke-width="1.0" stroke-linejoin="round"/>
<circle cx="448.80" cy="108.80" r="1.7" fill="#fff" stroke="#6dbb3f" stroke-width="0.9"/>
<circle cx="448.80" cy="114.50" r="1.7" fill="#fff" stroke="#6dbb3f" stroke-width="0.9"/>
<circle cx="449.00" cy="123.90" r="1.7" fill="#fff" stroke="#6dbb3f" stroke-width="0.9"/>
<circle cx="449.00" cy="133.90" r="1.7" fill="#fff" stroke="#6dbb3f" stroke-width="0.9"/>
<circle cx="449.00" cy="158.30" r="1.7" fill="#fff" stroke="#6dbb3f" stroke-width="0.9"/>
<circle cx="448.60" cy="181.80" r="1.7" fill="#fff" stroke="#6dbb3f" stroke-width="0.9"/>
<circle cx="448.20" cy="189.30" r="1.7" fill="#fff" stroke="#6dbb3f" stroke-width="0.9"/>
<circle cx="447.10" cy="200.60" r="1.7" fill="#fff" stroke="#6dbb3f" stroke-width="0.9"/>
<polyline points="445.00,200.50 449.00,200.50" fill="none" stroke="#6dbb3f" stroke-width="2.5" stroke-linejoin="round" stroke-linecap="round"/>
<polyline points="449.40,106.30 452.50,101.90 457.60,100.30 465.10,100.30 477.60,101.90 490.20,104.40 500.00,105.80 513.80,108.00 532.70,110.50 551.50,112.70 570.30,114.60 593.00,116.90" fill="none" stroke="#6dbb3f" stroke-width="4.2" stroke-linejoin="round" stroke-linecap="round"/>
<polyline points="451.30,108.20 456.30,112.60 462.60,117.00 471.40,120.70 483.90,124.50 495.00,126.30 513.80,130.10 532.70,133.10 551.50,135.30 570.30,137.60 583.50,140.60 593.00,142.90" fill="none" stroke="#6f3f98" stroke-width="3.6" stroke-linejoin="round" stroke-linecap="round"/>
<polyline points="449.20,139.00 449.20,146.00" fill="none" stroke="#5aaee0" stroke-width="1.2" stroke-linejoin="round"/>
<polyline points="450.00,140.20 452.50,139.60 465.10,140.80 477.60,142.10 495.00,142.90 523.20,144.70 551.50,145.90 593.00,146.60" fill="none" stroke="#5aaee0" stroke-width="4.8" stroke-linejoin="round" stroke-linecap="round"/>
<polyline points="44.60,368.00 54.60,367.50 67.40,364.70 76.60,362.50 85.70,360.20 94.80,357.40 104.00,354.70 113.10,351.60 122.30,348.30 131.40,344.60 138.70,341.00 142.30,338.40" fill="none" stroke="#1c1c1c" stroke-width="3.8" stroke-linejoin="round" stroke-linecap="round"/>
<polyline points="44.60,368.00 54.60,367.50 67.40,364.70 76.60,362.50 85.70,360.20 94.80,357.40 104.00,354.70 113.10,351.60 122.30,348.30 131.40,344.60 138.70,341.00 142.30,338.40" fill="none" stroke="#fff" stroke-width="2.00" stroke-dasharray="2.0 1.0" stroke-opacity="0.9"/>
<polyline points="142.30,338.40 144.50,335.90 145.90,333.00 147.40,330.80 148.40,326.10 149.60,317.60 150.80,311.70 153.30,310.30" fill="none" stroke="#1c1c1c" stroke-width="1.0" stroke-linejoin="round"/>
<circle cx="144.50" cy="335.90" r="1.7" fill="#fff" stroke="#1c1c1c" stroke-width="0.9"/>
<circle cx="145.90" cy="333.00" r="1.7" fill="#fff" stroke="#1c1c1c" stroke-width="0.9"/>
<circle cx="147.40" cy="330.80" r="1.7" fill="#fff" stroke="#1c1c1c" stroke-width="0.9"/>
<circle cx="148.40" cy="326.10" r="1.7" fill="#fff" stroke="#1c1c1c" stroke-width="0.9"/>
<circle cx="149.60" cy="317.60" r="1.7" fill="#fff" stroke="#1c1c1c" stroke-width="0.9"/>
<circle cx="150.80" cy="311.70" r="1.7" fill="#fff" stroke="#1c1c1c" stroke-width="0.9"/>
<polyline points="153.30,310.30 161.30,311.00 176.00,312.90 191.00,314.70" fill="none" stroke="#1c1c1c" stroke-width="3.8" stroke-linejoin="round" stroke-linecap="round"/>
<polyline points="153.30,310.30 161.30,311.00 176.00,312.90 191.00,314.70" fill="none" stroke="#fff" stroke-width="2.00" stroke-dasharray="2.0 1.0" stroke-opacity="0.9"/>
<polyline points="44.60,392.40 58.30,391.20 76.60,389.20 94.80,386.60 105.00,384.80 113.10,383.00 120.00,381.00 125.90,378.80 128.50,377.00 130.50,374.50 131.90,371.20 134.00,368.10 138.20,367.00 152.40,367.70 166.50,368.40 191.00,369.10" fill="none" stroke="#6f3f98" stroke-width="3.2" stroke-linejoin="round" stroke-linecap="round" stroke-opacity="0.9"/>
<polyline points="44.60,392.40 58.30,391.20 76.60,389.20 94.80,386.60 105.00,384.80 113.10,383.00 120.00,381.00 125.90,378.80 128.50,377.00 130.50,374.50 131.90,371.20 134.00,368.10 138.20,367.00 152.40,367.70 166.50,368.40 191.00,369.10" fill="none" stroke="#fff" stroke-width="1.20" stroke-dasharray="1.7 1.3" stroke-opacity="0.9"/>
<polyline points="44.60,394.90 58.30,394.20 76.60,392.20 94.80,389.40 105.00,387.60 113.10,385.80 122.30,383.00 131.40,378.60 136.00,376.50 140.50,375.20 146.70,374.90 159.40,375.90 173.60,376.60 191.00,377.80" fill="none" stroke="#5aaee0" stroke-width="4.4" stroke-linejoin="round" stroke-linecap="round"/>
<polyline points="44.60,394.90 58.30,394.20 76.60,392.20 94.80,389.40 105.00,387.60 113.10,385.80 122.30,383.00 131.40,378.60 136.00,376.50 140.50,375.20 146.70,374.90 159.40,375.90 173.60,376.60 191.00,377.80" fill="none" stroke="#fff" stroke-width="2.30" stroke-dasharray="1.7 1.3" stroke-opacity="0.9"/>
<polyline points="245.60,410.80 251.30,408.20 258.80,406.10 268.20,405.10 277.60,404.20 287.00,402.90 295.00,402.30 308.30,399.90 316.60,396.90 323.20,392.40 328.20,387.40 333.20,384.90 338.20,384.90 353.10,386.20 369.80,387.70 392.00,389.10" fill="none" stroke="#1c1c1c" stroke-width="3.8" stroke-linejoin="round" stroke-linecap="round"/>
<polyline points="245.60,410.80 251.30,408.20 258.80,406.10 268.20,405.10 277.60,404.20 287.00,402.90 295.00,402.30 308.30,399.90 316.60,396.90 323.20,392.40 328.20,387.40 333.20,384.90 338.20,384.90 353.10,386.20 369.80,387.70 392.00,389.10" fill="none" stroke="#fff" stroke-width="2.00" stroke-dasharray="2.0 1.0" stroke-opacity="0.9"/>
<polyline points="246.00,440.50 247.70,432.90 251.20,425.80 254.30,418.80 255.60,412.00 256.60,405.00 257.90,397.60 259.70,386.30 261.60,380.70 264.40,378.20" fill="none" stroke="#6f3f98" stroke-width="3.4" stroke-linejoin="round" stroke-linecap="round" stroke-opacity="0.85"/>
<polyline points="246.00,440.50 247.70,432.90 251.20,425.80 254.30,418.80 255.60,412.00 256.60,405.00 257.90,397.60 259.70,386.30 261.60,380.70 264.40,378.20" fill="none" stroke="#fff" stroke-width="1.30" stroke-dasharray="1.7 1.3" stroke-opacity="0.9"/>
<path d="M246.3 430.4l1.5 2.8h-3.0zM248.8 425.7l1.5 2.8h-3.0zM247.9 429.7l1.5 2.8h-3.0zM244.2 434.7l1.5 2.8h-3.0zM244.1 434.3l1.5 2.8h-3.0zM244.3 431.9l1.5 2.8h-3.0zM247.1 435.2l1.5 2.8h-3.0zM244.8 432.4l1.5 2.8h-3.0zM248.6 433.2l1.5 2.8h-3.0zM248.2 429.4l1.5 2.8h-3.0zM251.3 421.4l1.5 2.8h-3.0zM250.4 424.6l1.5 2.8h-3.0zM244.9 431.5l1.5 2.8h-3.0zM246.2 436.3l1.5 2.8h-3.0zM245.2 434.7l1.5 2.8h-3.0zM248.7 428.3l1.5 2.8h-3.0z" fill="none" stroke="#6f3f98" stroke-width="0.75" stroke-opacity="0.85"/>
<polyline points="261.60,379.50 264.00,378.50 266.00,379.20" fill="none" stroke="#6f3f98" stroke-width="3.4" stroke-linejoin="round" stroke-linecap="round" stroke-opacity="0.85"/>
<polyline points="261.60,379.50 264.00,378.50 266.00,379.20" fill="none" stroke="#fff" stroke-width="1.30" stroke-dasharray="1.7 1.3" stroke-opacity="0.9"/>
<path d="M270.9 381.6l1.6 3.0h-3.2zM276.0 383.6l1.6 3.0h-3.2zM285.9 382.1l1.6 3.0h-3.2zM262.1 379.4l1.6 3.0h-3.2zM271.7 379.9l1.6 3.0h-3.2zM300.3 380.5l1.6 3.0h-3.2zM294.1 383.5l1.6 3.0h-3.2zM286.5 382.6l1.6 3.0h-3.2zM286.3 386.7l1.6 3.0h-3.2zM282.0 385.4l1.6 3.0h-3.2zM287.7 382.3l1.6 3.0h-3.2zM291.1 385.2l1.6 3.0h-3.2zM273.3 379.0l1.6 3.0h-3.2zM295.3 383.0l1.6 3.0h-3.2zM289.6 387.1l1.6 3.0h-3.2zM289.4 387.3l1.6 3.0h-3.2zM277.0 385.1l1.6 3.0h-3.2zM278.9 386.2l1.6 3.0h-3.2zM295.8 381.8l1.6 3.0h-3.2zM266.9 378.2l1.6 3.0h-3.2zM299.2 381.0l1.6 3.0h-3.2zM286.0 383.4l1.6 3.0h-3.2zM281.3 383.3l1.6 3.0h-3.2zM275.3 383.3l1.6 3.0h-3.2zM284.3 386.7l1.6 3.0h-3.2zM288.1 387.2l1.6 3.0h-3.2zM294.9 384.6l1.6 3.0h-3.2zM287.7 382.9l1.6 3.0h-3.2zM295.1 384.4l1.6 3.0h-3.2zM296.8 382.5l1.6 3.0h-3.2zM289.4 383.4l1.6 3.0h-3.2zM293.9 383.9l1.6 3.0h-3.2zM272.7 379.1l1.6 3.0h-3.2zM294.8 384.7l1.6 3.0h-3.2zM265.0 381.4l1.6 3.0h-3.2zM277.6 381.1l1.6 3.0h-3.2zM273.0 383.8l1.6 3.0h-3.2zM295.6 381.7l1.6 3.0h-3.2zM285.5 381.9l1.6 3.0h-3.2zM289.5 384.1l1.6 3.0h-3.2zM295.9 384.0l1.6 3.0h-3.2zM281.3 386.9l1.6 3.0h-3.2zM273.6 379.5l1.6 3.0h-3.2zM284.9 381.7l1.6 3.0h-3.2zM269.3 380.3l1.6 3.0h-3.2zM285.3 382.5l1.6 3.0h-3.2zM263.3 381.2l1.6 3.0h-3.2zM273.8 385.3l1.6 3.0h-3.2zM296.5 382.2l1.6 3.0h-3.2zM279.5 383.8l1.6 3.0h-3.2zM286.6 385.2l1.6 3.0h-3.2zM283.4 384.9l1.6 3.0h-3.2zM298.2 381.6l1.6 3.0h-3.2zM278.4 384.8l1.6 3.0h-3.2zM270.8 380.1l1.6 3.0h-3.2zM299.6 380.9l1.6 3.0h-3.2zM282.9 381.3l1.6 3.0h-3.2zM277.8 383.8l1.6 3.0h-3.2zM262.4 378.8l1.6 3.0h-3.2zM286.2 382.1l1.6 3.0h-3.2z" fill="none" stroke="#6f3f98" stroke-width="0.75" stroke-opacity="0.9"/>
<polyline points="299.50,382.30 305.00,381.60 311.60,380.80 314.90,376.60 321.60,375.00 336.50,374.60 361.40,374.10 392.00,373.30" fill="none" stroke="#6f3f98" stroke-width="3.4" stroke-linejoin="round" stroke-linecap="round" stroke-opacity="0.75"/>
<polyline points="299.50,382.30 305.00,381.60 311.60,380.80 314.90,376.60 321.60,375.00 336.50,374.60 361.40,374.10 392.00,373.30" fill="none" stroke="#fff" stroke-width="1.60" stroke-dasharray="1.6 1.2" stroke-opacity="0.9"/>
<polyline points="248.00,449.30 249.80,446.20 251.30,443.20 252.70,440.00 254.00,436.80 255.10,433.60 256.00,430.40 256.80,427.20 257.50,424.00 258.10,420.80 258.70,417.60 259.20,414.40 259.70,411.20 260.10,408.00 260.90,378.40 262.00,352.60 263.60,326.80 264.60,322.80" fill="none" stroke="#6dbb3f" stroke-width="1.3" stroke-linejoin="round"/>
<circle cx="248.00" cy="449.30" r="1.8" fill="#fff" stroke="#6dbb3f" stroke-width="0.8"/>
<circle cx="249.80" cy="446.20" r="1.8" fill="#fff" stroke="#6dbb3f" stroke-width="0.8"/>
<circle cx="251.30" cy="443.20" r="1.8" fill="#fff" stroke="#6dbb3f" stroke-width="0.8"/>
<circle cx="252.70" cy="440.00" r="1.8" fill="#fff" stroke="#6dbb3f" stroke-width="0.8"/>
<circle cx="254.00" cy="436.80" r="1.8" fill="#fff" stroke="#6dbb3f" stroke-width="0.8"/>
<circle cx="255.10" cy="433.60" r="1.8" fill="#fff" stroke="#6dbb3f" stroke-width="0.8"/>
<circle cx="256.00" cy="430.40" r="1.8" fill="#fff" stroke="#6dbb3f" stroke-width="0.8"/>
<circle cx="256.80" cy="427.20" r="1.8" fill="#fff" stroke="#6dbb3f" stroke-width="0.8"/>
<circle cx="257.50" cy="424.00" r="1.8" fill="#fff" stroke="#6dbb3f" stroke-width="0.8"/>
<circle cx="258.10" cy="420.80" r="1.8" fill="#fff" stroke="#6dbb3f" stroke-width="0.8"/>
<circle cx="258.70" cy="417.60" r="1.8" fill="#fff" stroke="#6dbb3f" stroke-width="0.8"/>
<circle cx="259.20" cy="414.40" r="1.8" fill="#fff" stroke="#6dbb3f" stroke-width="0.8"/>
<circle cx="259.70" cy="411.20" r="1.8" fill="#fff" stroke="#6dbb3f" stroke-width="0.8"/>
<circle cx="260.10" cy="408.00" r="1.8" fill="#fff" stroke="#6dbb3f" stroke-width="0.8"/>
<circle cx="260.90" cy="378.40" r="1.8" fill="#fff" stroke="#6dbb3f" stroke-width="0.8"/>
<circle cx="262.00" cy="352.60" r="1.8" fill="#fff" stroke="#6dbb3f" stroke-width="0.8"/>
<circle cx="263.60" cy="326.80" r="1.8" fill="#fff" stroke="#6dbb3f" stroke-width="0.8"/>
<polyline points="264.60,322.50 277.60,322.00 290.20,320.10 295.00,318.30 303.30,315.80 311.60,312.90 318.30,312.40 328.20,314.90 344.80,318.30 361.40,321.20 378.00,323.60 392.00,325.40" fill="none" stroke="#6dbb3f" stroke-width="3.6" stroke-linejoin="round" stroke-linecap="round"/>
<polyline points="264.60,322.50 277.60,322.00 290.20,320.10 295.00,318.30 303.30,315.80 311.60,312.90 318.30,312.40 328.20,314.90 344.80,318.30 361.40,321.20 378.00,323.60 392.00,325.40" fill="none" stroke="#fff" stroke-width="1.90" stroke-dasharray="2.0 0.9" stroke-opacity="0.9"/>
<polyline points="446.50,420.70 448.80,418.40 451.20,414.90 453.50,411.30 455.90,406.70 457.00,402.00 458.20,397.30 459.80,390.30 460.50,383.30 461.70,370.40 462.90,354.00 463.90,337.50 464.50,337.10 465.10,321.40 466.30,304.70" fill="none" stroke="#1c1c1c" stroke-width="1.4" stroke-linejoin="round"/>
<circle cx="446.50" cy="420.70" r="1.8" fill="#fff" stroke="#1c1c1c" stroke-width="0.9"/>
<circle cx="448.00" cy="419.50" r="1.8" fill="#fff" stroke="#1c1c1c" stroke-width="0.9"/>
<circle cx="449.60" cy="417.50" r="1.8" fill="#fff" stroke="#1c1c1c" stroke-width="0.9"/>
<circle cx="451.20" cy="414.90" r="1.8" fill="#fff" stroke="#1c1c1c" stroke-width="0.9"/>
<circle cx="452.40" cy="413.10" r="1.8" fill="#fff" stroke="#1c1c1c" stroke-width="0.9"/>
<circle cx="453.50" cy="411.30" r="1.8" fill="#fff" stroke="#1c1c1c" stroke-width="0.9"/>
<circle cx="454.80" cy="409.00" r="1.8" fill="#fff" stroke="#1c1c1c" stroke-width="0.9"/>
<circle cx="455.90" cy="406.70" r="1.8" fill="#fff" stroke="#1c1c1c" stroke-width="0.9"/>
<circle cx="457.00" cy="402.00" r="1.8" fill="#fff" stroke="#1c1c1c" stroke-width="0.9"/>
<circle cx="457.60" cy="399.60" r="1.8" fill="#fff" stroke="#1c1c1c" stroke-width="0.9"/>
<circle cx="458.20" cy="397.30" r="1.8" fill="#fff" stroke="#1c1c1c" stroke-width="0.9"/>
<circle cx="459.00" cy="393.80" r="1.8" fill="#fff" stroke="#1c1c1c" stroke-width="0.9"/>
<circle cx="459.80" cy="390.30" r="1.8" fill="#fff" stroke="#1c1c1c" stroke-width="0.9"/>
<circle cx="460.50" cy="383.30" r="1.8" fill="#fff" stroke="#1c1c1c" stroke-width="0.9"/>
<circle cx="461.70" cy="370.40" r="1.8" fill="#fff" stroke="#1c1c1c" stroke-width="0.9"/>
<circle cx="462.90" cy="354.00" r="1.8" fill="#fff" stroke="#1c1c1c" stroke-width="0.9"/>
<circle cx="464.50" cy="337.10" r="1.8" fill="#fff" stroke="#1c1c1c" stroke-width="0.9"/>
<circle cx="465.10" cy="321.40" r="1.8" fill="#fff" stroke="#1c1c1c" stroke-width="0.9"/>
<circle cx="466.30" cy="304.70" r="1.8" fill="#fff" stroke="#1c1c1c" stroke-width="0.9"/>
<polyline points="467.60,304.90 468.90,305.10 477.60,308.20 487.70,310.10 495.20,310.50 500.00,310.00 504.40,308.90 507.20,308.90 513.80,310.30 525.00,312.70 536.80,315.90 557.80,319.70 578.70,322.20 593.00,323.20" fill="none" stroke="#1c1c1c" stroke-width="3.6" stroke-linejoin="round" stroke-linecap="round"/>
<polyline points="467.60,304.90 468.90,305.10 477.60,308.20 487.70,310.10 495.20,310.50 500.00,310.00 504.40,308.90 507.20,308.90 513.80,310.30 525.00,312.70 536.80,315.90 557.80,319.70 578.70,322.20 593.00,323.20" fill="none" stroke="#fff" stroke-width="1.90" stroke-dasharray="2.0 1.0" stroke-opacity="0.9"/>
<polyline points="446.50,448.30 466.00,448.30" fill="none" stroke="#6dbb3f" stroke-width="3.0" stroke-linejoin="round" stroke-linecap="round"/>
<polyline points="449.00,447.60 464.00,447.60 464.00,417.20 465.20,390.00 466.40,356.00" fill="none" stroke="#6f3f98" stroke-width="1.2" stroke-linejoin="round"/>
<circle cx="464.00" cy="417.20" r="1.5" fill="#fff" stroke="#6f3f98" stroke-width="0.9"/>
<circle cx="465.20" cy="428.90" r="1.5" fill="#fff" stroke="#6f3f98" stroke-width="0.9"/>
<circle cx="450.00" cy="446.80" r="1.5" fill="#fff" stroke="#6f3f98" stroke-width="0.9"/>
<polyline points="466.60,354.50 467.60,354.20 477.70,356.40 495.00,360.90 515.90,365.10 536.80,368.20 557.80,369.90 593.00,372.40" fill="none" stroke="#6f3f98" stroke-width="3.4" stroke-linejoin="round" stroke-linecap="round"/>
<polyline points="466.60,354.50 467.60,354.20 477.70,356.40 495.00,360.90 515.90,365.10 536.80,368.20 557.80,369.90 593.00,372.40" fill="none" stroke="#fff" stroke-width="1.30" stroke-dasharray="1.7 1.3" stroke-opacity="0.9"/>
<polyline points="468.70,446.00 469.20,390.30" fill="none" stroke="#5aaee0" stroke-width="1.2" stroke-linejoin="round"/>
<polyline points="469.80,389.20 471.10,388.00 495.00,387.00 536.80,388.10 593.00,389.60" fill="none" stroke="#5aaee0" stroke-width="3.6" stroke-linejoin="round" stroke-linecap="round"/>
<polyline points="469.80,389.20 471.10,388.00 495.00,387.00 536.80,388.10 593.00,389.60" fill="none" stroke="#fff" stroke-width="1.50" stroke-dasharray="1.7 1.3" stroke-opacity="0.9"/>
<polyline points="466.40,354.00 466.40,447.60" fill="none" stroke="#6dbb3f" stroke-width="1.4" stroke-linejoin="round"/>
<circle cx="466.40" cy="357.50" r="1.7" fill="#fff" stroke="#6dbb3f" stroke-width="0.9"/>
<circle cx="466.40" cy="363.40" r="1.7" fill="#fff" stroke="#6dbb3f" stroke-width="0.9"/>
<circle cx="466.40" cy="377.40" r="1.7" fill="#fff" stroke="#6dbb3f" stroke-width="0.9"/>
<circle cx="466.40" cy="390.30" r="1.7" fill="#fff" stroke="#6dbb3f" stroke-width="0.9"/>
<circle cx="466.40" cy="407.80" r="1.7" fill="#fff" stroke="#6dbb3f" stroke-width="0.9"/>
<circle cx="466.40" cy="424.20" r="1.7" fill="#fff" stroke="#6dbb3f" stroke-width="0.9"/>
<circle cx="466.40" cy="435.90" r="1.7" fill="#fff" stroke="#6dbb3f" stroke-width="0.9"/>
<circle cx="466.40" cy="442.90" r="1.7" fill="#fff" stroke="#6dbb3f" stroke-width="0.9"/>
<polyline points="467.50,355.10 477.70,351.40 495.00,349.80 515.90,349.00 536.80,349.80 557.80,350.40 593.00,351.00" fill="none" stroke="#6dbb3f" stroke-width="3.6" stroke-linejoin="round" stroke-linecap="round"/>
<polyline points="467.50,355.10 477.70,351.40 495.00,349.80 515.90,349.00 536.80,349.80 557.80,350.40 593.00,351.00" fill="none" stroke="#fff" stroke-width="1.50" stroke-dasharray="1.7 1.3" stroke-opacity="0.9"/>
<path d="M138.10 164.50H147.50" stroke="#1c1c1c" stroke-width="1.0"/>
<circle cx="142.80" cy="164.50" r="1.8" fill="#fff" stroke="#1c1c1c" stroke-width="0.9"/>
<text x="152.70" y="167.90" font-size="10" text-anchor="start" textLength="25.3" lengthAdjust="spacingAndGlyphs" fill="#222222" stroke="#222222" stroke-width="0.25" >#10-0</text>
<path d="M138.10 176.00H147.50" stroke="#6f3f98" stroke-width="1.0"/>
<path d="M142.80 174.00L144.70 177.30L140.90 177.30Z" fill="#fff" stroke="#6f3f98" stroke-width="0.8"/>
<text x="152.70" y="179.40" font-size="10" text-anchor="start" textLength="25.3" lengthAdjust="spacingAndGlyphs" fill="#222222" stroke="#222222" stroke-width="0.25" >#10-1</text>
<path d="M138.10 187.70H147.50" stroke="#5aaee0" stroke-width="1.0"/>
<path d="M142.80 185.30L144.90 187.70L142.80 190.10L140.70 187.70Z" fill="#fff" stroke="#5aaee0" stroke-width="0.9"/>
<text x="152.70" y="191.10" font-size="10" text-anchor="start" textLength="25.3" lengthAdjust="spacingAndGlyphs" fill="#222222" stroke="#222222" stroke-width="0.25" >#10-2</text>
<path d="M335.90 164.20H345.30" stroke="#1c1c1c" stroke-width="1.0"/>
<circle cx="340.60" cy="164.20" r="1.8" fill="#fff" stroke="#1c1c1c" stroke-width="0.9"/>
<text x="350.50" y="167.60" font-size="10" text-anchor="start" textLength="30.3" lengthAdjust="spacingAndGlyphs" fill="#222222" stroke="#222222" stroke-width="0.25" >#095-0</text>
<path d="M335.90 175.70H345.30" stroke="#6f3f98" stroke-width="1.0"/>
<path d="M340.60 173.70L342.50 177.00L338.70 177.00Z" fill="#fff" stroke="#6f3f98" stroke-width="0.8"/>
<text x="350.50" y="179.10" font-size="10" text-anchor="start" textLength="30.3" lengthAdjust="spacingAndGlyphs" fill="#222222" stroke="#222222" stroke-width="0.25" >#095-1</text>
<path d="M335.90 187.40H345.30" stroke="#6dbb3f" stroke-width="1.0"/>
<circle cx="340.60" cy="187.40" r="1.8" fill="#fff" stroke="#6dbb3f" stroke-width="0.9"/>
<text x="350.50" y="190.80" font-size="10" text-anchor="start" textLength="30.3" lengthAdjust="spacingAndGlyphs" fill="#222222" stroke="#222222" stroke-width="0.25" >#095-3</text>
<path d="M540.00 154.40H549.60" stroke="#1c1c1c" stroke-width="1.0"/>
<circle cx="544.80" cy="154.40" r="1.8" fill="#fff" stroke="#1c1c1c" stroke-width="0.9"/>
<text x="554.50" y="157.80" font-size="10" text-anchor="start" textLength="25.7" lengthAdjust="spacingAndGlyphs" fill="#222222" stroke="#222222" stroke-width="0.25" >#09-0</text>
<path d="M540.00 166.10H549.60" stroke="#6f3f98" stroke-width="1.0"/>
<path d="M544.80 164.10L546.70 167.40L542.90 167.40Z" fill="#fff" stroke="#6f3f98" stroke-width="0.8"/>
<text x="554.50" y="169.50" font-size="10" text-anchor="start" textLength="25.7" lengthAdjust="spacingAndGlyphs" fill="#222222" stroke="#222222" stroke-width="0.25" >#09-1</text>
<path d="M540.00 177.60H549.60" stroke="#5aaee0" stroke-width="1.0"/>
<path d="M544.80 175.20L546.90 177.60L544.80 180.00L542.70 177.60Z" fill="#fff" stroke="#5aaee0" stroke-width="0.9"/>
<text x="554.50" y="181.00" font-size="10" text-anchor="start" textLength="25.7" lengthAdjust="spacingAndGlyphs" fill="#222222" stroke="#222222" stroke-width="0.25" >#09-2</text>
<path d="M540.00 188.90H549.60" stroke="#6dbb3f" stroke-width="1.0"/>
<circle cx="544.80" cy="188.90" r="1.8" fill="#fff" stroke="#6dbb3f" stroke-width="0.9"/>
<text x="554.50" y="192.30" font-size="10" text-anchor="start" textLength="25.7" lengthAdjust="spacingAndGlyphs" fill="#222222" stroke="#222222" stroke-width="0.25" >#09-3</text>
<path d="M136.50 407.60H146.90" stroke="#1c1c1c" stroke-width="1.0"/>
<circle cx="141.70" cy="407.60" r="1.8" fill="#fff" stroke="#1c1c1c" stroke-width="0.9"/>
<text x="152.10" y="411.00" font-size="10" text-anchor="start" textLength="25.4" lengthAdjust="spacingAndGlyphs" fill="#222222" stroke="#222222" stroke-width="0.25" >#10-0</text>
<path d="M136.50 419.20H146.90" stroke="#6f3f98" stroke-width="1.0"/>
<path d="M141.70 417.20L143.60 420.50L139.80 420.50Z" fill="#fff" stroke="#6f3f98" stroke-width="0.8"/>
<text x="152.10" y="422.60" font-size="10" text-anchor="start" textLength="25.4" lengthAdjust="spacingAndGlyphs" fill="#222222" stroke="#222222" stroke-width="0.25" >#10-1</text>
<path d="M136.50 431.20H146.90" stroke="#5aaee0" stroke-width="1.0"/>
<path d="M141.70 428.80L143.80 431.20L141.70 433.60L139.60 431.20Z" fill="#fff" stroke="#5aaee0" stroke-width="0.9"/>
<text x="152.10" y="434.60" font-size="10" text-anchor="start" textLength="25.4" lengthAdjust="spacingAndGlyphs" fill="#222222" stroke="#222222" stroke-width="0.25" >#10-2</text>
<path d="M330.20 409.10H340.20" stroke="#1c1c1c" stroke-width="1.0"/>
<circle cx="335.20" cy="409.10" r="1.8" fill="#fff" stroke="#1c1c1c" stroke-width="0.9"/>
<text x="345.70" y="412.50" font-size="10" text-anchor="start" textLength="31.0" lengthAdjust="spacingAndGlyphs" fill="#222222" stroke="#222222" stroke-width="0.25" >#095-0</text>
<path d="M330.20 420.90H340.20" stroke="#6f3f98" stroke-width="1.0"/>
<path d="M335.20 418.90L337.10 422.20L333.30 422.20Z" fill="#fff" stroke="#6f3f98" stroke-width="0.8"/>
<text x="345.70" y="424.30" font-size="10" text-anchor="start" textLength="31.0" lengthAdjust="spacingAndGlyphs" fill="#222222" stroke="#222222" stroke-width="0.25" >#095-1</text>
<path d="M330.20 432.60H340.20" stroke="#6dbb3f" stroke-width="1.0"/>
<circle cx="335.20" cy="432.60" r="1.8" fill="#fff" stroke="#6dbb3f" stroke-width="0.9"/>
<text x="345.70" y="436.00" font-size="10" text-anchor="start" textLength="31.0" lengthAdjust="spacingAndGlyphs" fill="#222222" stroke="#222222" stroke-width="0.25" >#095-3</text>
<path d="M541.00 403.20H551.10" stroke="#1c1c1c" stroke-width="1.0"/>
<circle cx="546.05" cy="403.20" r="1.8" fill="#fff" stroke="#1c1c1c" stroke-width="0.9"/>
<text x="556.30" y="406.60" font-size="10" text-anchor="start" textLength="25.8" lengthAdjust="spacingAndGlyphs" fill="#222222" stroke="#222222" stroke-width="0.25" >#09-0</text>
<path d="M541.00 414.80H551.10" stroke="#6f3f98" stroke-width="1.0"/>
<path d="M546.05 412.80L547.95 416.10L544.15 416.10Z" fill="#fff" stroke="#6f3f98" stroke-width="0.8"/>
<text x="556.30" y="418.20" font-size="10" text-anchor="start" textLength="25.8" lengthAdjust="spacingAndGlyphs" fill="#222222" stroke="#222222" stroke-width="0.25" >#09-1</text>
<path d="M541.00 426.60H551.10" stroke="#5aaee0" stroke-width="1.0"/>
<path d="M546.05 424.20L548.15 426.60L546.05 429.00L543.95 426.60Z" fill="#fff" stroke="#5aaee0" stroke-width="0.9"/>
<text x="556.30" y="430.00" font-size="10" text-anchor="start" textLength="25.8" lengthAdjust="spacingAndGlyphs" fill="#222222" stroke="#222222" stroke-width="0.25" >#09-2</text>
<path d="M541.00 438.30H551.10" stroke="#6dbb3f" stroke-width="1.0"/>
<circle cx="546.05" cy="438.30" r="1.8" fill="#fff" stroke="#6dbb3f" stroke-width="0.9"/>
<text x="556.30" y="441.70" font-size="10" text-anchor="start" textLength="25.8" lengthAdjust="spacingAndGlyphs" fill="#222222" stroke="#222222" stroke-width="0.25" >#09-3</text>
<path d="M155.60 325.80L154.64 321.27" stroke="#111" stroke-width="1.3"/>
<path d="M153.40 315.40L157.19 320.73L154.43 320.29L152.10 321.81Z" fill="#111" stroke="#111" stroke-width="0.4"/>
<path d="M264.30 309.10L264.30 313.60" stroke="#111" stroke-width="1.3"/>
<path d="M264.30 319.60L261.70 313.60L264.30 314.60L266.90 313.60Z" fill="#111" stroke="#111" stroke-width="0.4"/>
<path d="M315.90 330.60L315.90 326.00" stroke="#111" stroke-width="1.3"/>
<path d="M315.90 320.00L318.50 326.00L315.90 325.00L313.30 326.00Z" fill="#111" stroke="#111" stroke-width="0.4"/>
<path d="M465.90 291.00L465.90 296.00" stroke="#111" stroke-width="1.3"/>
<path d="M465.90 302.00L463.30 296.00L465.90 297.00L468.50 296.00Z" fill="#111" stroke="#111" stroke-width="0.4"/>
<path d="M506.80 323.50L506.80 319.20" stroke="#111" stroke-width="1.3"/>
<path d="M506.80 313.20L509.40 319.20L506.80 318.20L504.20 319.20Z" fill="#111" stroke="#111" stroke-width="0.4"/>
<text x="154.00" y="338.90" font-style="italic" font-size="12.6" fill="#1a1a1a" stroke="#1a1a1a" stroke-width="0.2">T</text>
<text x="159.80" y="343.80" font-size="10" fill="#1a1a1a" stroke="#1a1a1a" stroke-width="0.25">t</text>
<text x="259.90" y="301.60" font-style="italic" font-size="12.6" fill="#1a1a1a" stroke="#1a1a1a" stroke-width="0.2">T</text>
<text x="265.20" y="306.50" font-size="10" fill="#1a1a1a" stroke="#1a1a1a" stroke-width="0.25">c</text>
<text x="312.80" y="343.80" font-style="italic" font-size="12.6" fill="#1a1a1a" stroke="#1a1a1a" stroke-width="0.2">T</text>
<text x="318.80" y="348.70" font-size="10" fill="#1a1a1a" stroke="#1a1a1a" stroke-width="0.25">t</text>
<text x="461.90" y="284.70" font-style="italic" font-size="12.6" fill="#1a1a1a" stroke="#1a1a1a" stroke-width="0.2">T</text>
<text x="466.80" y="289.60" font-size="10" fill="#1a1a1a" stroke="#1a1a1a" stroke-width="0.25">c</text>
<text x="503.30" y="337.70" font-style="italic" font-size="12.6" fill="#1a1a1a" stroke="#1a1a1a" stroke-width="0.2">T</text>
<text x="508.70" y="342.60" font-size="10" fill="#1a1a1a" stroke="#1a1a1a" stroke-width="0.25">t</text>
<text x="1.70" y="13.70" font-size="17.5" text-anchor="start" textLength="18.2" lengthAdjust="spacingAndGlyphs" fill="#222222" stroke="#222222" stroke-width="0.3" >(a)</text>
<text x="200.40" y="13.70" font-size="17.5" text-anchor="start" textLength="19.5" lengthAdjust="spacingAndGlyphs" fill="#222222" stroke="#222222" stroke-width="0.3" >(b)</text>
<text x="405.00" y="13.70" font-size="17.5" text-anchor="start" textLength="17.4" lengthAdjust="spacingAndGlyphs" fill="#222222" stroke="#222222" stroke-width="0.3" >(c)</text>
<text x="1.70" y="260.60" font-size="17.5" text-anchor="start" textLength="19.1" lengthAdjust="spacingAndGlyphs" fill="#222222" stroke="#222222" stroke-width="0.3" >(d)</text>
<text x="200.40" y="260.60" font-size="17.5" text-anchor="start" textLength="19.5" lengthAdjust="spacingAndGlyphs" fill="#222222" stroke="#222222" stroke-width="0.3" >(e)</text>
<text x="406.20" y="260.60" font-size="17.5" text-anchor="start" textLength="15.4" lengthAdjust="spacingAndGlyphs" fill="#222222" stroke="#222222" stroke-width="0.3" >(f)</text>
<text x="148.60" y="43.70" font-size="14" text-anchor="start" textLength="29.0" lengthAdjust="spacingAndGlyphs" fill="#222222" stroke="#222222" stroke-width="0.3" >FeTe</text>
<text x="148.40" y="295.00" font-size="14" text-anchor="start" textLength="29.5" lengthAdjust="spacingAndGlyphs" fill="#222222" stroke="#222222" stroke-width="0.3" >FeTe</text>
<text x="301.60" y="44.60" font-size="14" text-anchor="start" textLength="27.8" lengthAdjust="spacingAndGlyphs" fill="#222222" stroke="#222222" stroke-width="0.3" >FeSe</text>
<text x="329.70" y="47.90" font-size="10" text-anchor="start" textLength="19.0" lengthAdjust="spacingAndGlyphs" fill="#222222" stroke="#222222" stroke-width="0.25" >0.05</text>
<text x="349.40" y="44.60" font-size="14" text-anchor="start" textLength="15.0" lengthAdjust="spacingAndGlyphs" fill="#222222" stroke="#222222" stroke-width="0.3" >Te</text>
<text x="365.20" y="47.90" font-size="10" text-anchor="start" textLength="18.2" lengthAdjust="spacingAndGlyphs" fill="#222222" stroke="#222222" stroke-width="0.25" >0.95</text>
<text x="507.80" y="43.40" font-size="14" text-anchor="start" textLength="28.1" lengthAdjust="spacingAndGlyphs" fill="#222222" stroke="#222222" stroke-width="0.3" >FeSe</text>
<text x="536.30" y="46.70" font-size="10" text-anchor="start" textLength="13.0" lengthAdjust="spacingAndGlyphs" fill="#222222" stroke="#222222" stroke-width="0.25" >0.1</text>
<text x="550.00" y="43.40" font-size="14" text-anchor="start" textLength="14.6" lengthAdjust="spacingAndGlyphs" fill="#222222" stroke="#222222" stroke-width="0.3" >Te</text>
<text x="565.80" y="46.70" font-size="10" text-anchor="start" textLength="12.7" lengthAdjust="spacingAndGlyphs" fill="#222222" stroke="#222222" stroke-width="0.25" >0.9</text>
<text x="297.00" y="291.60" font-size="14" text-anchor="start" textLength="27.9" lengthAdjust="spacingAndGlyphs" fill="#222222" stroke="#222222" stroke-width="0.3" >FeSe</text>
<text x="325.40" y="294.90" font-size="10" text-anchor="start" textLength="19.1" lengthAdjust="spacingAndGlyphs" fill="#222222" stroke="#222222" stroke-width="0.25" >0.05</text>
<text x="345.60" y="291.60" font-size="14" text-anchor="start" textLength="13.3" lengthAdjust="spacingAndGlyphs" fill="#222222" stroke="#222222" stroke-width="0.3" >Te</text>
<text x="359.80" y="294.90" font-size="10" text-anchor="start" textLength="19.1" lengthAdjust="spacingAndGlyphs" fill="#222222" stroke="#222222" stroke-width="0.25" >0.95</text>
<text x="508.20" y="292.20" font-size="14" text-anchor="start" textLength="28.4" lengthAdjust="spacingAndGlyphs" fill="#222222" stroke="#222222" stroke-width="0.3" >FeSe</text>
<text x="536.90" y="295.50" font-size="10" text-anchor="start" textLength="13.1" lengthAdjust="spacingAndGlyphs" fill="#222222" stroke="#222222" stroke-width="0.25" >0.1</text>
<text x="550.80" y="292.20" font-size="14" text-anchor="start" textLength="14.2" lengthAdjust="spacingAndGlyphs" fill="#222222" stroke="#222222" stroke-width="0.3" >Te</text>
<text x="566.00" y="295.50" font-size="10" text-anchor="start" textLength="13.2" lengthAdjust="spacingAndGlyphs" fill="#222222" stroke="#222222" stroke-width="0.25" >0.9</text>
</svg></body></html>
